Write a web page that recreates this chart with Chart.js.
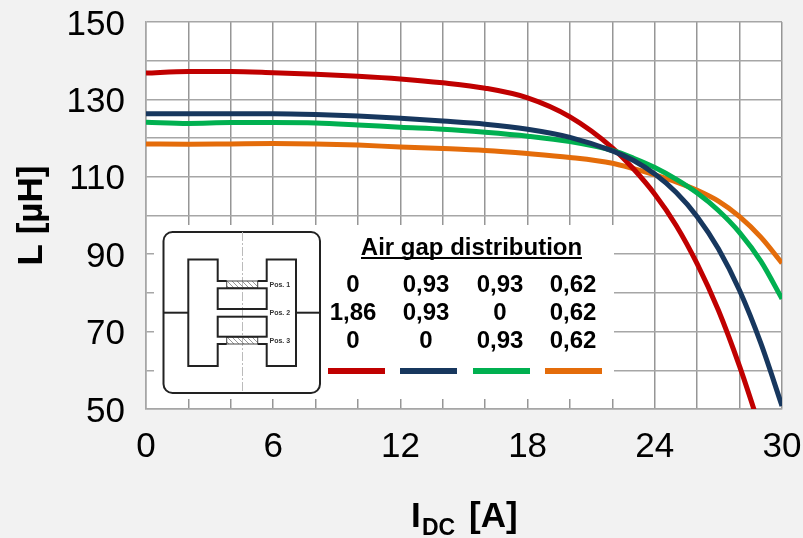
<!DOCTYPE html>
<html>
<head>
<meta charset="utf-8">
<style>
  html, body { margin: 0; padding: 0; background: #f2f2f2; }
  canvas { display: block; }
</style>
<script src="https://cdn.jsdelivr.net/npm/chart.js@4/dist/chart.umd.min.js"></script>
</head>
<body>
<canvas id="chart" width="803" height="538"></canvas>
<script>
const currents = [0, 2, 4, 6, 8, 10, 12, 14, 16, 18, 20, 22, 23, 24, 25, 26, 27, 28, 29, 30]

// red leaves the plot just before 29 A, the scale clips it
const redValues = [136.8, 137.2, 137.2, 136.9, 136.5, 136.0, 135.3, 134.3, 132.9, 130.4, 125.5, 117.5, 112.0, 105.5, 97.5, 87.5, 75.5, 61.0, 44.5, null]
const navyValues = [126.3, 126.3, 126.3, 126.3, 126.1, 125.7, 125.1, 124.4, 123.6, 122.3, 120.2, 116.7, 114.2, 110.7, 106.0, 99.7, 91.4, 80.6, 67.0, 50.8]
const greenValues = [124.1, 123.8, 124.0, 124.0, 123.9, 123.4, 122.8, 122.3, 121.5, 120.5, 119.1, 116.8, 114.8, 112.4, 109.4, 105.8, 101.3, 95.6, 88.2, 78.5]
const orangeValues = [118.5, 118.4, 118.5, 118.6, 118.5, 118.2, 117.7, 117.3, 116.8, 116.0, 115.0, 113.5, 112.1, 110.5, 108.7, 106.5, 103.7, 99.7, 94.4, 87.7]

const seriesColors = ['#C00000', '#17375E', '#00B050', '#E46C0A']

const legendTitle = 'Air gap distribution'
const gapRow1 = ['0', '0,93', '0,93', '0,62']
const gapRow2 = ['1,86', '0,93', '0', '0,62']
const gapRow3 = ['0', '0', '0,93', '0,62']
const posLabels = ['Pos. 1', 'Pos. 2', 'Pos. 3']

const FONT = '"Liberation Sans", Arial, sans-serif'

function points(values) {
  return currents
    .map((x, i) => ({ x: x, y: values[i] }))
    .filter(p => p.y !== null)
}

function line(ctx, coords) {
  ctx.beginPath()
  coords.forEach((c, i) => i ? ctx.lineTo(c[0], c[1]) : ctx.moveTo(c[0], c[1]))
  ctx.stroke()
}

// the core sketch inside the inset, coordinates are page pixels
function drawCore(ctx) {
  ctx.strokeStyle = '#222'
  ctx.lineWidth = 2
  ctx.beginPath()
  ctx.roundRect(163.5, 232, 156.5, 161, 9)
  ctx.stroke()

  ctx.save()
  ctx.strokeStyle = '#bbb'
  ctx.lineWidth = 1
  ctx.setLineDash([9, 2, 2, 2])
  line(ctx, [[242.5, 232], [242.5, 393]])
  ctx.restore()

  // hatched gaps
  ;[[281, 288], [337, 344]].forEach(g => {
    ctx.save()
    ctx.beginPath()
    ctx.rect(226.7, g[0], 31, g[1] - g[0])
    ctx.clip()
    ctx.strokeStyle = '#999'
    ctx.lineWidth = 1
    for (let x = 222; x < 265; x += 5) line(ctx, [[x, g[0]], [x + 7, g[1]]])
    ctx.restore()
    ctx.strokeStyle = '#444'
    ctx.lineWidth = 1
    ctx.strokeRect(226.7, g[0], 31, g[1] - g[0])
  })

  ctx.strokeStyle = '#222'
  ctx.lineWidth = 2
  line(ctx, [[163.5, 312.7], [188.3, 312.7]])
  line(ctx, [[296, 312.7], [320, 312.7]])
  line(ctx, [[226.7, 281], [217.7, 281], [217.7, 259.5], [188.3, 259.5], [188.3, 366], [217.7, 366], [217.7, 344], [226.7, 344]])
  line(ctx, [[257.7, 281], [266.7, 281], [266.7, 259.5], [296, 259.5], [296, 366], [266.7, 366], [266.7, 344], [257.7, 344]])
  ctx.strokeRect(217.7, 288.3, 49, 20.7)
  ctx.strokeRect(217.7, 316.7, 49, 20)

  ctx.fillStyle = '#333'
  ctx.font = 'bold 7px ' + FONT
  ctx.textAlign = 'left'
  ctx.textBaseline = 'middle'
  posLabels.forEach((t, i) => ctx.fillText(t, 269.5, 285 + i * 28.2))
}

function drawLegendTable(ctx) {
  const columns = [353, 426, 500, 573]
  const baselines = [292, 320, 348]
  ctx.fillStyle = '#000'
  ctx.textAlign = 'center'
  ctx.textBaseline = 'alphabetic'
  ctx.font = 'bold 24px ' + FONT
  ctx.fillText(legendTitle, 471.5, 255)
  ctx.fillRect(361, 257, 221, 2)
  ;[gapRow1, gapRow2, gapRow3].forEach((row, r) => {
    row.forEach((t, c) => ctx.fillText(t, columns[c], baselines[r]))
  })
  const swatchX = [328, 400, 473, 545]
  seriesColors.forEach((color, i) => {
    ctx.fillStyle = color
    ctx.fillRect(swatchX[i], 368, 57, 6)
  })
}

const pagePlugin = {
  id: 'page',
  beforeDraw(chart) {
    const { ctx, chartArea: a } = chart
    ctx.save()
    ctx.fillStyle = '#fff'
    ctx.fillRect(a.left, a.top, a.right - a.left, a.bottom - a.top)
    ctx.restore()
  },
  afterDatasetsDraw(chart) {
    const ctx = chart.ctx
    ctx.save()
    ctx.fillStyle = '#fff'
    ctx.fillRect(154, 225, 460, 174)
    drawCore(ctx)
    drawLegendTable(ctx)

    // x axis title, has a subscript so the scale title can't do it
    ctx.fillStyle = '#000'
    ctx.textAlign = 'left'
    ctx.textBaseline = 'alphabetic'
    ctx.font = 'bold 35px ' + FONT
    ctx.fillText('I', 411, 527)
    ctx.fillText('[A]', 469, 527)
    ctx.font = 'bold 23px ' + FONT
    ctx.fillText('DC', 422, 535)
    ctx.restore()
  }
}

function dataset(label, values, color, order) {
  return {
    label: label,
    data: points(values),
    borderColor: color,
    borderWidth: 5,
    pointRadius: 0,
    fill: false,
    cubicInterpolationMode: 'monotone',
    order: order
  }
}

new Chart(document.getElementById('chart'), {
  type: 'line',
  data: {
    datasets: [
      dataset('0 / 1,86 / 0', redValues, seriesColors[0], 3),
      dataset('0,93 / 0,93 / 0', navyValues, seriesColors[1], 1),
      dataset('0,93 / 0 / 0,93', greenValues, seriesColors[2], 2),
      dataset('0,62 / 0,62 / 0,62', orangeValues, seriesColors[3], 4)
    ]
  },
  plugins: [pagePlugin],
  options: {
    responsive: false,
    animation: false,
    layout: { padding: { top: 22, right: 21, left: 0, bottom: 0 } },
    plugins: { legend: { display: false }, tooltip: { enabled: false } },
    scales: {
      x: {
        type: 'linear',
        min: 0,
        max: 30,
        afterFit: scale => {
          scale.height = 129
          scale.paddingLeft = 0
          scale.paddingRight = 0
        },
        grid: { color: '#969696', lineWidth: 1.5, drawTicks: false },
        border: { color: '#a6a6a6', width: 1.5 },
        ticks: {
          stepSize: 2,
          autoSkip: false,
          maxRotation: 0,
          padding: 17,
          color: '#000',
          font: { family: FONT, size: 35 },
          callback: v => v % 6 === 0 ? String(v) : ''
        }
      },
      y: {
        min: 50,
        max: 150,
        afterFit: scale => {
          scale.width = 146
          scale.paddingTop = 0
          scale.paddingBottom = 0
        },
        grid: { color: '#a6a6a6', lineWidth: 1.5, drawTicks: false },
        border: { color: '#a6a6a6', width: 1.5 },
        title: {
          display: true,
          text: 'L [µH]',
          color: '#000',
          font: { family: FONT, size: 35, weight: 'bold' },
          padding: { top: 11, bottom: 0 }
        },
        ticks: {
          stepSize: 10,
          autoSkip: false,
          padding: 21,
          labelOffset: 3,
          color: '#000',
          font: { family: FONT, size: 35 },
          callback: v => (v - 50) % 20 === 0 ? String(v) : ''
        }
      }
    }
  }
})
</script>
</body>
</html>
